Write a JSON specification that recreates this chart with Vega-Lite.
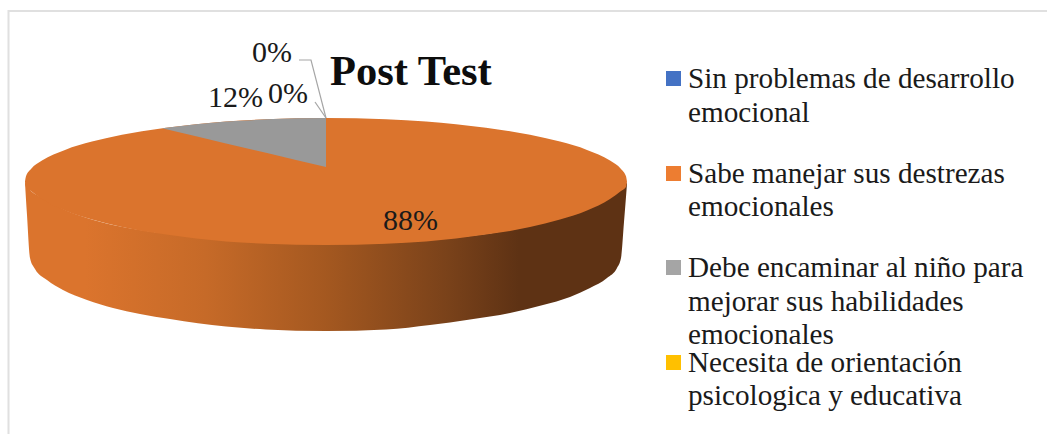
{
"$schema":"https://vega.github.io/schema/vega-lite/v6.json",
"width":1047,"height":434,"padding":0,"autosize":{"type":"none"},
"background":"white",
"view":{"stroke":null},
"title":{"text":"Post Test","anchor":"start","frame":"group","dx":330,"dy":127,"offset":0,"baseline":"alphabetic","font":"Liberation Serif","fontSize":42.5,"fontWeight":"bold","color":"#0d0d0d"},
"datasets":{
"frame":[{"i":1,"x":8.5,"y":434},{"i":2,"x":8.5,"y":11},{"i":3,"x":1047,"y":11}],
"side":[{"x":25,"y":181,"y2":183},{"x":27,"y":186,"y2":215},{"x":30,"y":190,"y2":258},{"x":35,"y":194,"y2":269},{"x":47,"y":200,"y2":280},{"x":63,"y":209,"y2":290},{"x":87,"y":218,"y2":300},{"x":113,"y":225,"y2":308},{"x":140,"y":230,"y2":314},{"x":170,"y":234,"y2":319},{"x":226,"y":240,"y2":326.5},{"x":266,"y":243,"y2":329.5},{"x":326,"y":244,"y2":331},{"x":386,"y":243,"y2":329.5},{"x":430,"y":240,"y2":325},{"x":470,"y":236,"y2":319.5},{"x":510,"y":230,"y2":313},{"x":543,"y":222,"y2":305},{"x":570,"y":215,"y2":297},{"x":590,"y":207,"y2":288},{"x":607,"y":198,"y2":278},{"x":617,"y":191,"y2":268},{"x":621,"y":189,"y2":258},{"x":624,"y":187,"y2":222},{"x":627,"y":182,"y2":184}],
"top":[{"x":25,"y":181.5,"y2":181.5},{"x":26,"y":176.3,"y2":187},{"x":31,"y":168.9,"y2":191},{"x":42,"y":160.5,"y2":199},{"x":65,"y":149.9,"y2":210.5},{"x":92,"y":141.6,"y2":219.5},{"x":122,"y":134.8,"y2":227},{"x":142,"y":131.2,"y2":231},{"x":166,"y":127.7,"y2":234.5},{"x":196,"y":124.2,"y2":238.5},{"x":226,"y":121.6,"y2":241.4},{"x":266,"y":119.3,"y2":243.7},{"x":326,"y":118,"y2":245},{"x":386,"y":119.3,"y2":243.7},{"x":426,"y":121.6,"y2":241.4},{"x":456,"y":124.2,"y2":238.5},{"x":486,"y":127.7,"y2":234.5},{"x":510,"y":131.2,"y2":231},{"x":530,"y":134.8,"y2":227},{"x":560,"y":141.6,"y2":219.5},{"x":587,"y":149.9,"y2":210.5},{"x":610,"y":160.5,"y2":199},{"x":621,"y":168.9,"y2":191},{"x":626,"y":176.3,"y2":187},{"x":627,"y":181.5,"y2":181.5}],
"wedge":[{"x":162,"y":128.3,"y2":128.3},{"x":196,"y":124.2,"y2":136.3},{"x":226,"y":121.6,"y2":143.4},{"x":266,"y":119.3,"y2":152.8},{"x":296,"y":118.3,"y2":159.9},{"x":326,"y":118,"y2":167}],
"leaders":[{"s":"a","i":1,"x":299,"y":60},{"s":"a","i":2,"x":311,"y":60},{"s":"a","i":3,"x":326,"y":118},{"s":"b","i":1,"x":315,"y":102},{"s":"b","i":2,"x":326,"y":118}],
"labels":[{"t":"0%","x":252,"y":61.6},{"t":"12%","x":208,"y":106.7},{"t":"0%","x":268,"y":103},{"t":"88%","x":383,"y":229.5}],
"swatches":[{"c":"Sin problemas de desarrollo emocional","x":673.5,"y":78.5},{"c":"Sabe manejar sus destrezas emocionales","x":673.5,"y":173.5},{"c":"Debe encaminar al niño para mejorar sus habilidades emocionales","x":673.5,"y":267.5},{"c":"Necesita de orientación psicologica y educativa","x":673.5,"y":362.5}],
"legendText":[{"t":"Sin problemas de desarrollo","x":688,"y":88},{"t":"emocional","x":688,"y":121.6},{"t":"Sabe manejar sus destrezas","x":688,"y":183},{"t":"emocionales","x":688,"y":215.6},{"t":"Debe encaminar al niño para","x":688,"y":276.7},{"t":"mejorar sus habilidades","x":688,"y":310.7},{"t":"emocionales","x":688,"y":344},{"t":"Necesita de orientación","x":688,"y":372},{"t":"psicologica y educativa","x":688,"y":405}]
},
"encoding":{
"x":{"field":"x","type":"quantitative","axis":null,"scale":{"domain":[0,1047],"nice":false,"zero":false}},
"y":{"field":"y","type":"quantitative","axis":null,"scale":{"domain":[434,0],"nice":false,"zero":false}}
},
"layer":[
{"data":{"name":"frame"},"mark":{"type":"line","color":"#e0e0e0","strokeWidth":2},"encoding":{"order":{"field":"i"}}},
{"data":{"name":"side"},"mark":{"type":"area","interpolate":"monotone","color":{"gradient":"linear","x1":0,"y1":0,"x2":1,"y2":0,"stops":[{"offset":0,"color":"#DB742D"},{"offset":0.1,"color":"#DB742D"},{"offset":0.3,"color":"#C66A28"},{"offset":0.5,"color":"#A45820"},{"offset":0.7,"color":"#7A421A"},{"offset":0.82,"color":"#5E3214"},{"offset":1,"color":"#5E3214"}]}},"encoding":{"y2":{"field":"y2"}}},
{"data":{"name":"top"},"mark":{"type":"area","interpolate":"monotone","color":"#DB742D"},"encoding":{"y2":{"field":"y2"}}},
{"data":{"name":"wedge"},"mark":{"type":"area","color":"#999999"},"encoding":{"y2":{"field":"y2"}}},
{"data":{"name":"leaders"},"mark":{"type":"line","color":"#a6a6a6","strokeWidth":1.2},"encoding":{"detail":{"field":"s"},"order":{"field":"i"}}},
{"data":{"name":"labels"},"mark":{"type":"text","align":"left","baseline":"alphabetic","font":"Liberation Serif","fontSize":30,"color":"#1a1a1a"},"encoding":{"text":{"field":"t"}}},
{"data":{"name":"swatches"},"mark":{"type":"point","shape":"square","filled":true,"opacity":1,"size":225},"encoding":{"color":{"field":"c","type":"nominal","legend":null,"scale":{"domain":["Sin problemas de desarrollo emocional","Sabe manejar sus destrezas emocionales","Debe encaminar al niño para mejorar sus habilidades emocionales","Necesita de orientación psicologica y educativa"],"range":["#4472C4","#ED7D31","#A5A5A5","#FFC000"]}}}},
{"data":{"name":"legendText"},"mark":{"type":"text","align":"left","baseline":"alphabetic","font":"Liberation Serif","fontSize":29.2,"color":"#1a1a1a"},"encoding":{"text":{"field":"t"}}}
]
}
